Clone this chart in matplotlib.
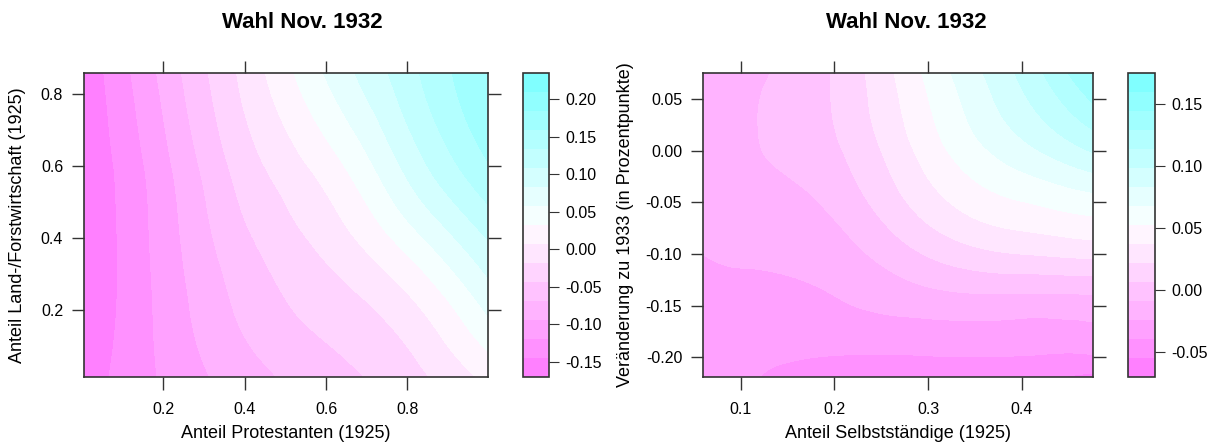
import colorsys
import numpy as np
import matplotlib
matplotlib.use("Agg")
import matplotlib.pyplot as plt
import matplotlib.tri as mtri
from matplotlib.colors import ListedColormap, BoundaryNorm

plt.rcParams['font.family'] = ['Liberation Sans', 'DejaVu Sans']
plt.rcParams['axes.unicode_minus'] = False

# -------------------------------
# Data
# -------------------------------
title = "Wahl Nov. 1932"

# left panel: Anteil Protestanten (x) vs. Anteil Land-/Forstwirtschaft (y)
prot_x = [0.005, 0.2, 0.4, 0.6, 0.8, 0.998]
land_y = [0.014, 0.2, 0.4, 0.6, 0.858]
z_left = [
    [-0.158, -0.116, -0.080, -0.054, -0.028, 0.014],
    [-0.167, -0.112, -0.063, -0.034, -0.002, 0.062],
    [-0.170, -0.108, -0.048, -0.009, 0.045, 0.110],
    [-0.167, -0.102, -0.031, 0.019, 0.090, 0.157],
    [-0.163, -0.087, -0.011, 0.060, 0.124, 0.185],
]
left_range = (-0.170, 0.235)
left_xticks = [0.2, 0.4, 0.6, 0.8]
left_yticks = [0.2, 0.4, 0.6, 0.8]
left_cticks = [-0.15, -0.10, -0.05, 0.00, 0.05, 0.10, 0.15, 0.20]

# right panel: Anteil Selbststaendige (x) vs. Veraenderung zu 1933 (y)
selb_x = [0.06, 0.1, 0.2, 0.3, 0.4, 0.476]
change_y = [-0.219, -0.20, -0.15, -0.10, -0.05, 0.0, 0.075]
z_right = [
    [-0.036, -0.037, -0.047, -0.048, -0.050, -0.058],
    [-0.035, -0.036, -0.040, -0.040, -0.040, -0.041],
    [-0.030, -0.030, -0.026, -0.018, -0.017, -0.016],
    [-0.024, -0.022, -0.016, 0.008, 0.022, 0.026],
    [-0.018, -0.016, -0.005, 0.030, 0.052, 0.061],
    [-0.016, -0.011, 0.004, 0.044, 0.078, 0.100],
    [-0.015, -0.012, 0.008, 0.056, 0.102, 0.145],
]
right_range = (-0.070, 0.175)
right_xticks = [0.1, 0.2, 0.3, 0.4]
right_yticks = [-0.20, -0.15, -0.10, -0.05, 0.00, 0.05]
right_cticks = [-0.05, 0.00, 0.05, 0.10, 0.15]

n_regions = 16


# R-style cm.colors palette, reversed (magenta = low, cyan = high)
def cm_colors(n):
    k = n // 2
    even = n % 2 == 0
    l1 = k + 1 - even
    l2 = n - k + even
    cyan = [colorsys.hsv_to_rgb(6 / 12, s, 1)
            for s in np.linspace(0.5, 0.5 / k if even else 0, l1)]
    mag = [colorsys.hsv_to_rgb(10 / 12, s, 1)
           for s in np.linspace(0, 0.5, l2)[1:]]
    return cyan + mag


pal = cm_colors(100)[::-1]
idx = np.round(np.linspace(0, 99, n_regions)).astype(int)
cmap = ListedColormap([pal[i] for i in idx])


def draw_panel(ax, cax, xs, ys, z, zrange, xticks, yticks, cticks,
               xlabel, ylabel, ylab_x):
    X, Y = np.meshgrid(xs, ys)
    Z = np.array(z)
    # normalise coordinates so the interpolation is not stretched
    sx = (X - X.min()) / (X.max() - X.min())
    sy = (Y - Y.min()) / (Y.max() - Y.min())
    tri = mtri.Triangulation(sx.ravel(), sy.ravel())
    interp = mtri.CubicTriInterpolator(tri, Z.ravel(), kind='min_E')
    refiner = mtri.UniformTriRefiner(tri)
    tri_f, z_f = refiner.refine_field(Z.ravel(), triinterpolator=interp,
                                      subdiv=5)
    tri_f.x = X.min() + tri_f.x * (X.max() - X.min())
    tri_f.y = Y.min() + tri_f.y * (Y.max() - Y.min())

    levels = np.linspace(zrange[0], zrange[1], n_regions + 1)
    norm = BoundaryNorm(levels, cmap.N)
    cs = ax.tricontourf(tri_f, np.clip(z_f, levels[0] + 1e-6, levels[-1] - 1e-6),
                        levels=levels, cmap=cmap, norm=norm)

    ax.set_xlim(min(xs), max(xs))
    ax.set_ylim(min(ys), max(ys))
    ax.set_xticks(xticks)
    ax.set_yticks(yticks)
    ax.set_xticklabels([f"{t:g}" for t in xticks])
    dec = 2 if min(np.diff(yticks)) < 0.1 else 1
    ax.set_yticklabels([f"{t:.{dec}f}" for t in yticks])
    ax.tick_params(direction='out', length=9, width=1, top=True, right=True,
                   labeltop=False, labelright=False, labelsize=11.5,
                   color='#333333', pad=6)
    ax.tick_params(axis='x', pad=9)
    for sp in ax.spines.values():
        sp.set_color('#333333')
        sp.set_linewidth(1.2)
    ax.set_xlabel(xlabel, fontsize=13)
    ax.set_ylabel(ylabel, fontsize=13)
    ax.xaxis.set_label_coords(0.5, (377 - 434) / 304)
    ax.xaxis.label.set_va('center')
    ax.yaxis.set_label_coords(ylab_x, 0.5)
    ax.yaxis.label.set_va('center')

    cb = plt.colorbar(cs, cax=cax, ticks=cticks)
    cb.set_ticklabels([f"{t:.2f}" for t in cticks])
    cb.outline.set_edgecolor('#333333')
    cb.outline.set_linewidth(1.2)
    cax.minorticks_off()
    cax.tick_params(direction='out', length=7, labelsize=11.5,
                    color='#333333', pad=5)


W, H = 1208, 446
fig = plt.figure(figsize=(W / 100, H / 100), dpi=100)


def frac(x0, x1, y0, y1):
    return [x0 / W, 1 - y1 / H, (x1 - x0) / W, (y1 - y0) / H]


ax1 = fig.add_axes(frac(84, 488, 73, 377))
cax1 = fig.add_axes(frac(523, 549, 73, 377))
ax2 = fig.add_axes(frac(703, 1093, 73, 377))
cax2 = fig.add_axes(frac(1128, 1155, 73, 377))

draw_panel(ax1, cax1, prot_x, land_y, z_left, left_range,
           left_xticks, left_yticks, left_cticks,
           "Anteil Protestanten (1925)", "Anteil Land-/Forstwirtschaft (1925)",
           (18 - 84) / 404)
draw_panel(ax2, cax2, selb_x, change_y, z_right, right_range,
           right_xticks, right_yticks, right_cticks,
           "Anteil Selbstständige (1925)",
           "Veränderung zu 1933 (in Prozentpunkte)",
           (625 - 703) / 390)

fig.text(302 / W, 1 - 22 / H, title, ha='center', va='center',
         fontsize=16, fontweight='bold')
fig.text(906 / W, 1 - 22 / H, title, ha='center', va='center',
         fontsize=16, fontweight='bold')

fig.savefig("out.png", dpi=100)
